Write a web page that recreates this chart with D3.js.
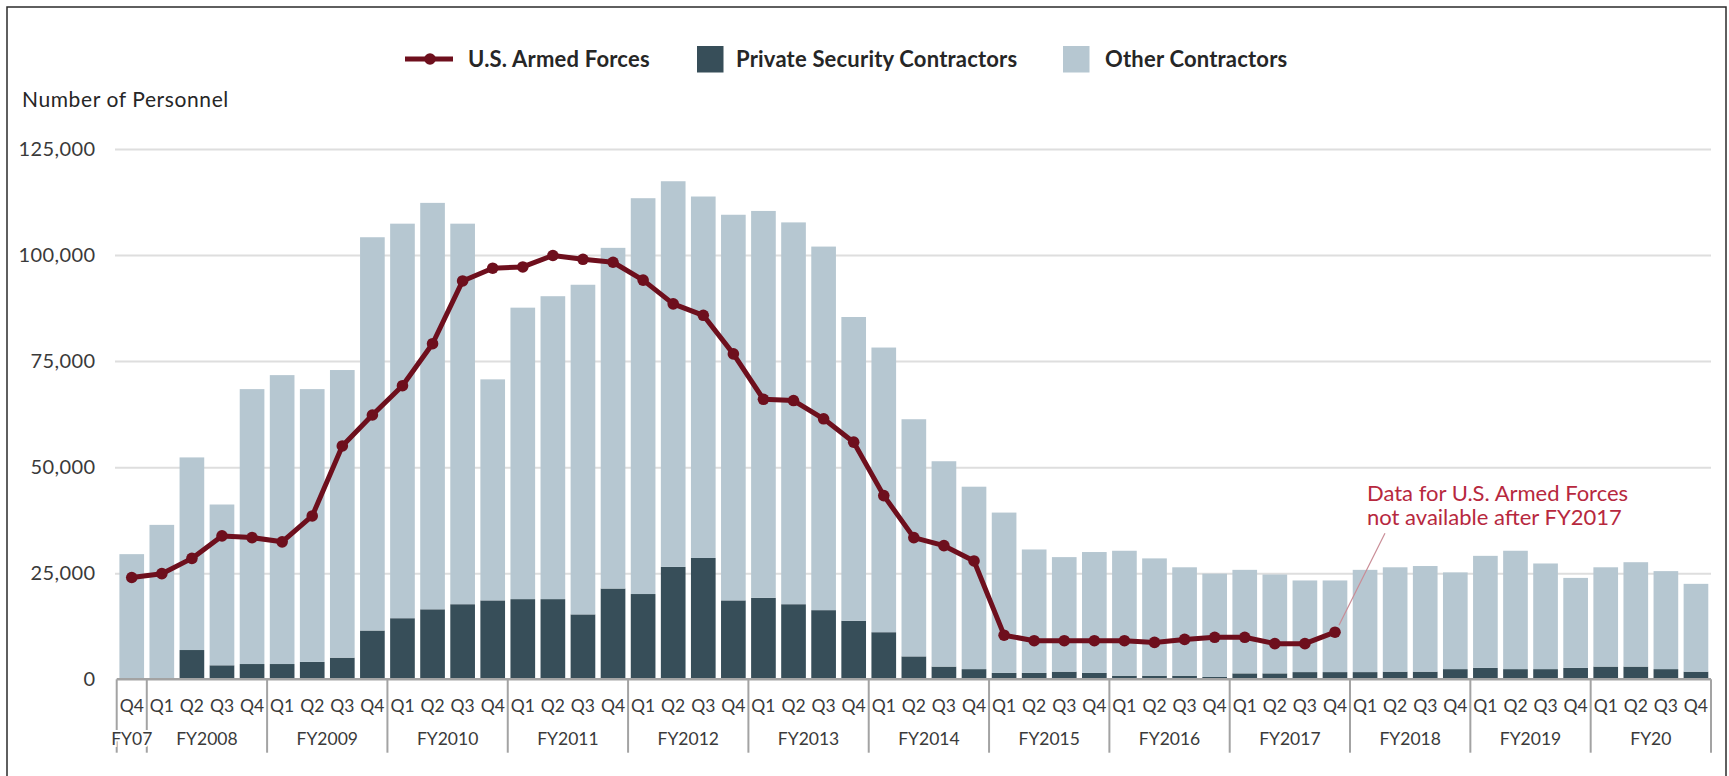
<!DOCTYPE html>
<html>
<head>
<meta charset="utf-8">
<script src="https://cdn.jsdelivr.net/npm/d3@7/dist/d3.min.js"></script>
<style>
  body { margin: 0; background: #fff; }
  svg { display: block; font-family: Lato, "Open Sans", sans-serif; }
</style>
</head>
<body>
<svg id="chart" width="1729" height="776"></svg>
<script>
// fiscal years and how many quarters each one shows
const fiscalYears = ['FY07', 'FY2008', 'FY2009', 'FY2010', 'FY2011', 'FY2012', 'FY2013',
    'FY2014', 'FY2015', 'FY2016', 'FY2017', 'FY2018', 'FY2019', 'FY20']
const quarterCounts = [1, 4, 4, 4, 4, 4, 4, 4, 4, 4, 4, 4, 4, 4]
const quarterNames = ['Q1', 'Q2', 'Q3', 'Q4']

// personnel, one value per quarter (FY07 Q4 .. FY20 Q4)
const armedForces = [24000, 24900, 28500, 33800, 33400, 32400, 38500, 55000, 62300,
    69200, 79100, 93900, 96900, 97200, 99900, 99000, 98300, 94100, 88500, 85800, 76700,
    66000, 65700, 61400, 55900, 43300, 33400, 31500, 27900, 10400, 9100, 9100, 9100,
    9100, 8700, 9400, 9900, 9900, 8400, 8400, 11100,
    null, null, null, null, null, null, null, null, null, null, null, null]
const privateSecurity = [0, 0, 6900, 3300, 3600, 3600, 4100, 5100, 11500,
    14400, 16500, 17700, 18600, 18900, 18900, 15300, 21400, 20100, 26500, 28600, 18600,
    19200, 17700, 16300, 13800, 11100, 5400, 3000, 2400, 1500, 1500, 1800, 1500,
    850, 850, 850, 550, 1400, 1400, 1700, 1700, 1700, 1800, 1800, 2400,
    2700, 2400, 2400, 2700, 3000, 3000, 2400, 1800]
const otherContractors = [29500, 36400, 45400, 37900, 64800, 68100, 64300, 67800, 92700,
    93000, 95800, 89700, 52100, 68700, 71400, 77700, 80300, 93300, 90900, 85200, 90900,
    91200, 90000, 85700, 71600, 67100, 55900, 48400, 43000, 37800, 29100, 27000, 28500,
    29450, 27650, 25550, 24350, 24400, 23300, 21600, 21600, 24100, 24600, 24900, 22800,
    26400, 27900, 24900, 21200, 23400, 24600, 23100, 20700]
const yTicks = [0, 25000, 50000, 75000, 100000, 125000]

const colors = {
    armed: '#6e0f1d',
    psc: '#374e59',
    other: '#b6c7d1',
    grid: '#dedede',
    axis: '#a3a3a3',
    text: '#3a3a3a',
    note: '#b7283e',
}

// build quarter list from the fiscal years
const quarters = []
fiscalYears.forEach((fy, i) => {
    quarterNames.slice(4 - quarterCounts[i]).forEach(q => quarters.push({ fy, q }))
})
const rows = quarters.map((d, i) => ({
    i,
    q: d.q,
    armed: armedForces[i],
    psc: privateSecurity[i],
    other: otherContractors[i],
}))

const svg = d3.select('#chart')
const plot = { left: 116.7, right: 1711, top: 149, bottom: 679.3 }

const x = d3.scaleBand()
    .domain(d3.range(rows.length))
    .range([plot.left, plot.right])
    .paddingInner(0.18)
    .paddingOuter(0.09)
const y = d3.scaleLinear().domain([0, 125000]).range([plot.bottom, plot.top])

// frame
svg.append('rect')
    .attr('x', 7).attr('y', 7).attr('width', 1719).attr('height', 800)
    .attr('fill', 'none').attr('stroke', '#2b2b2b').attr('stroke-width', 1.5)

// gridlines
const grid = svg.append('g')
    .attr('transform', `translate(${plot.right}, 0)`)
    .call(d3.axisRight(y).tickValues(yTicks.slice(1)).tickSize(-(plot.right - 115)).tickFormat(''))
grid.select('.domain').remove()
grid.selectAll('line').attr('stroke', colors.grid).attr('stroke-width', 2)

// y tick labels
const yAxis = svg.append('g')
    .attr('transform', 'translate(95.5, 0)')
    .call(d3.axisLeft(y).tickValues(yTicks).tickSize(0).tickPadding(0).tickFormat(d3.format(',')))
yAxis.select('.domain').remove()
yAxis.selectAll('text')
    .attr('fill', colors.text)
    .style('font-size', '20px')
    .style('letter-spacing', '0.4px')
    .style('font-family', 'Lato, sans-serif')

svg.append('text')
    .attr('x', 22).attr('y', 107)
    .attr('fill', '#262626')
    .style('font-size', '21px')
    .style('letter-spacing', '0.6px')
    .text('Number of Personnel')

// stacked bars
const stack = d3.stack().keys(['psc', 'other'])(rows)
const barFill = { psc: colors.psc, other: colors.other }
svg.append('g')
    .selectAll('g')
    .data(stack)
    .join('g')
    .attr('fill', s => barFill[s.key])
    .selectAll('rect')
    .data(s => s)
    .join('rect')
    .attr('x', d => x(d.data.i))
    .attr('width', x.bandwidth())
    .attr('y', d => y(d[1]))
    .attr('height', d => y(d[0]) - y(d[1]))

// category axis: line, year separators, labels
const sepX = k => (k >= rows.length ? plot.right : x(k) - (x.step() - x.bandwidth()) / 2)
const axisG = svg.append('g')
axisG.append('line')
    .attr('x1', plot.left).attr('x2', plot.right)
    .attr('y1', y(0)).attr('y2', y(0))
    .attr('stroke', colors.axis).attr('stroke-width', 2.5)

const bounds = [0, ...Array.from(d3.cumsum(quarterCounts))]
axisG.selectAll('.sep')
    .data(bounds)
    .join('line')
    .attr('class', 'sep')
    .attr('x1', k => sepX(k)).attr('x2', k => sepX(k))
    .attr('y1', y(0)).attr('y2', 752.7)
    .attr('stroke', colors.axis).attr('stroke-width', 2)

axisG.selectAll('.qlab')
    .data(rows)
    .join('text')
    .attr('class', 'qlab')
    .attr('x', d => x(d.i) + x.bandwidth() / 2)
    .attr('y', 706)
    .attr('dy', '0.35em')
    .attr('text-anchor', 'middle')
    .attr('fill', colors.text)
    .style('font-size', '17.5px')
    .text(d => d.q)

axisG.selectAll('.fylab')
    .data(fiscalYears)
    .join('text')
    .attr('class', 'fylab')
    .attr('x', (d, i) => (sepX(bounds[i]) + sepX(bounds[i + 1])) / 2)
    .attr('y', 739)
    .attr('dy', '0.35em')
    .attr('text-anchor', 'middle')
    .attr('fill', colors.text)
    .attr('stroke', '#fff').attr('stroke-width', 4)
    .style('paint-order', 'stroke')
    .style('font-size', '17.5px')
    .text(d => d)

// U.S. Armed Forces line
const armedPts = rows.filter(d => d.armed !== null)
const line = d3.line()
    .x(d => x(d.i) + x.bandwidth() / 2)
    .y(d => y(d.armed))
svg.append('path')
    .datum(armedPts)
    .attr('d', line)
    .attr('fill', 'none')
    .attr('stroke', colors.armed)
    .attr('stroke-width', 5)
    .attr('stroke-linejoin', 'round')
svg.append('g')
    .selectAll('circle')
    .data(armedPts)
    .join('circle')
    .attr('cx', d => x(d.i) + x.bandwidth() / 2)
    .attr('cy', d => y(d.armed))
    .attr('r', 5.8)
    .attr('fill', colors.armed)

// annotation
const lastPt = armedPts[armedPts.length - 1]
const lx = x(lastPt.i) + x.bandwidth() / 2
const ly = y(lastPt.armed)
svg.append('line')
    .attr('x1', lx + 4).attr('y1', ly - 7)
    .attr('x2', lx + 50).attr('y2', ly - 99)
    .attr('stroke', '#c98c96').attr('stroke-width', 1.2)
const note = svg.append('text')
    .attr('x', 1367).attr('y', 493)
    .attr('fill', colors.note)
    .style('font-size', '22px')
note.append('tspan').attr('x', 1367).attr('dy', '0.35em').text('Data for U.S. Armed Forces')
note.append('tspan').attr('x', 1367).attr('dy', '1.1em').text('not available after FY2017')

// legend
const legend = svg.append('g')
    .style('font-weight', 700)
    .style('font-size', '22px')
    .style('letter-spacing', '0.2px')
legend.append('line')
    .attr('x1', 405).attr('x2', 453).attr('y1', 59).attr('y2', 59)
    .attr('stroke', colors.armed).attr('stroke-width', 5)
legend.append('circle').attr('cx', 430).attr('cy', 59).attr('r', 5.8).attr('fill', colors.armed)
legend.append('text').attr('x', 468).attr('y', 59).attr('dy', '0.35em').attr('fill', '#262626').text('U.S. Armed Forces')
legend.append('rect').attr('x', 697).attr('y', 46).attr('width', 26.5).attr('height', 26.5).attr('fill', colors.psc)
legend.append('text').attr('x', 736).attr('y', 59).attr('dy', '0.35em').attr('fill', '#262626').text('Private Security Contractors')
legend.append('rect').attr('x', 1063).attr('y', 46).attr('width', 26.5).attr('height', 26.5).attr('fill', colors.other)
legend.append('text').attr('x', 1105).attr('y', 59).attr('dy', '0.35em').attr('fill', '#262626').text('Other Contractors')
</script>
</body>
</html>
